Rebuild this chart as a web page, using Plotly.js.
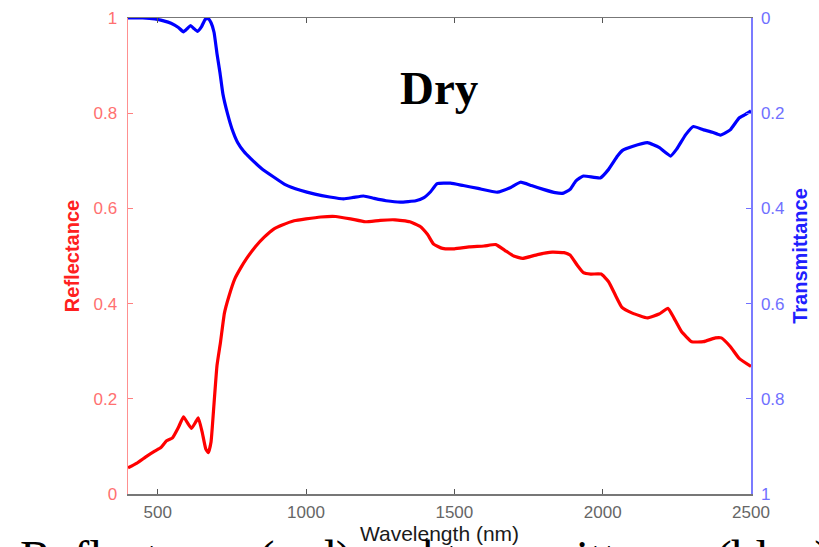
<!DOCTYPE html>
<html>
<head>
<meta charset="utf-8">
<script src="https://cdn.plot.ly/plotly-3.0.1.min.js"></script>
<style>
  html, body { margin: 0; padding: 0; background: #ffffff; }
  #chart { width: 819px; height: 547px; }
</style>
</head>
<body>
<div id="chart"></div>
<script>
// Leaf spectra (dry sample): reflectance on the left axis, transmittance on the reversed right axis
const reflWavelength = [400, 430, 460, 490, 510, 530, 550, 570, 587, 600, 614, 627, 637, 650, 662, 671, 680, 690, 700, 712,
  725, 740, 760, 780, 800, 830, 860, 890, 920, 960, 1000, 1050, 1100, 1150, 1200, 1250, 1300, 1350, 1385, 1410,
  1430, 1460, 1500, 1550, 1600, 1640, 1670, 1700, 1730, 1780, 1830, 1870, 1890, 1915, 1935, 1960, 1995, 2020, 2045, 2065,
  2100, 2150, 2190, 2220, 2240, 2265, 2300, 2340, 2380, 2400, 2430, 2460, 2500];
const reflectance = [0.055, 0.065, 0.078, 0.090, 0.097, 0.112, 0.118, 0.140, 0.162, 0.150, 0.138, 0.150, 0.160, 0.130, 0.095, 0.087, 0.110, 0.190, 0.270, 0.320,
  0.380, 0.415, 0.452, 0.475, 0.495, 0.520, 0.540, 0.556, 0.565, 0.574, 0.578, 0.582, 0.583, 0.578, 0.572, 0.575, 0.576, 0.572, 0.562, 0.545,
  0.525, 0.516, 0.515, 0.519, 0.521, 0.524, 0.512, 0.500, 0.495, 0.503, 0.508, 0.507, 0.502, 0.480, 0.465, 0.462, 0.462, 0.446, 0.415, 0.392,
  0.380, 0.370, 0.378, 0.390, 0.370, 0.342, 0.320, 0.320, 0.328, 0.328, 0.310, 0.285, 0.268];

const transWavelength = [400, 450, 490, 520, 545, 570, 587, 600, 611, 622, 634, 648, 660, 670, 680, 690, 700, 710, 720, 735,
  750, 770, 790, 813, 850, 891, 930, 981, 1030, 1080, 1127, 1160, 1194, 1230, 1270, 1318, 1370, 1396, 1420, 1442,
  1487, 1530, 1580, 1645, 1690, 1723, 1760, 1800, 1840, 1868, 1890, 1910, 1935, 1992, 2020, 2050, 2067, 2100, 2151, 2190,
  2229, 2250, 2280, 2306, 2340, 2370, 2397, 2430, 2460, 2480, 2500];
const transmittance = [0.000, 0.000, 0.002, 0.006, 0.011, 0.020, 0.029, 0.022, 0.016, 0.022, 0.028, 0.018, 0.003, 0.001, 0.010, 0.030, 0.075, 0.115, 0.160, 0.200,
  0.232, 0.262, 0.280, 0.295, 0.316, 0.334, 0.350, 0.362, 0.370, 0.376, 0.380, 0.377, 0.374, 0.379, 0.384, 0.387, 0.384, 0.378, 0.365, 0.348,
  0.347, 0.352, 0.358, 0.366, 0.356, 0.345, 0.352, 0.360, 0.367, 0.368, 0.360, 0.342, 0.332, 0.336, 0.318, 0.290, 0.278, 0.270, 0.262, 0.272,
  0.290, 0.275, 0.245, 0.228, 0.235, 0.240, 0.246, 0.235, 0.210, 0.203, 0.195];

const xTicks = [500, 1000, 1500, 2000, 2500];
const leftTicks = [0, 0.2, 0.4, 0.6, 0.8, 1];
const leftTickText = ['0', '0.2', '0.4', '0.6', '0.8', '1'];
const rightTicks = [0, 0.2, 0.4, 0.6, 0.8, 1];
const rightTickText = ['0', '0.2', '0.4', '0.6', '0.8', '1'];

const traces = [
  {
    x: reflWavelength, y: reflectance, type: 'scatter', mode: 'lines',
    line: { color: '#ff0000', width: 3.2, shape: 'spline', smoothing: 0.4 }, yaxis: 'y', name: 'Reflectance'
  },
  {
    x: transWavelength, y: transmittance, type: 'scatter', mode: 'lines',
    line: { color: '#0000ff', width: 3.2, shape: 'spline', smoothing: 0.4 }, yaxis: 'y2', name: 'Transmittance'
  }
];

const layout = {
  width: 819, height: 547,
  margin: { l: 128, r: 68, t: 18, b: 53, pad: 0 },
  paper_bgcolor: '#ffffff', plot_bgcolor: '#ffffff',
  showlegend: false,
  font: { family: 'Arial, Liberation Sans, sans-serif' },
  xaxis: {
    range: [400, 2500], tickvals: xTicks, ticktext: xTicks.map(String),
    ticks: 'inside', ticklen: 5, tickcolor: '#555555', tickwidth: 1,
    showline: true, linecolor: '#777777', linewidth: 1.5, mirror: 'ticks',
    showgrid: false, zeroline: false,
    tickfont: { size: 17, color: '#666666' }, ticklabelstandoff: 2,
    title: { text: 'Wavelength (nm)', font: { size: 21, color: '#1a1a1a' }, standoff: 0 }
  },
  yaxis: {
    range: [0, 1], tickvals: leftTicks, ticktext: leftTickText,
    ticks: 'inside', ticklen: 5, tickcolor: '#ff8080', tickwidth: 1,
    showline: true, linecolor: '#ff9090', linewidth: 1.5,
    showgrid: false, zeroline: false,
    tickfont: { size: 17, color: '#ff7070' }, ticklabelstandoff: 6,
    title: { text: '<b>Reflectance</b>', font: { size: 20, color: '#ff2020' }, standoff: 8 }
  },
  yaxis2: {
    range: [1, 0], overlaying: 'y', side: 'right', anchor: 'x',
    tickvals: rightTicks, ticktext: rightTickText,
    ticks: 'inside', ticklen: 5, tickcolor: '#7070ff', tickwidth: 1,
    showline: true, linecolor: '#7b7bff', linewidth: 1.5,
    showgrid: false, zeroline: false,
    tickfont: { size: 17, color: '#7070ff' }, ticklabelstandoff: 5,
    title: { text: '<b>Transmittance</b>', font: { size: 20, color: '#2020ff' }, standoff: 9 }
  },
  annotations: [
    {
      text: '<b>Dry</b>', xref: 'paper', yref: 'paper', x: 0.5, y: 0.852,
      xanchor: 'center', yanchor: 'middle', showarrow: false,
      font: { family: 'Liberation Serif, Times New Roman, serif', size: 47, color: '#000000' }
    },
    {
      text: 'Reflectance (red) and transmittance (blue)', xref: 'paper', yref: 'paper',
      x: -0.177, y: -0.073, xanchor: 'left', yanchor: 'top', showarrow: false,
      font: { family: 'Liberation Serif, Times New Roman, serif', size: 48, color: '#000000' }
    }
  ]
};

Plotly.newPlot('chart', traces, layout, { displayModeBar: false, staticPlot: true });
</script>
</body>
</html>
